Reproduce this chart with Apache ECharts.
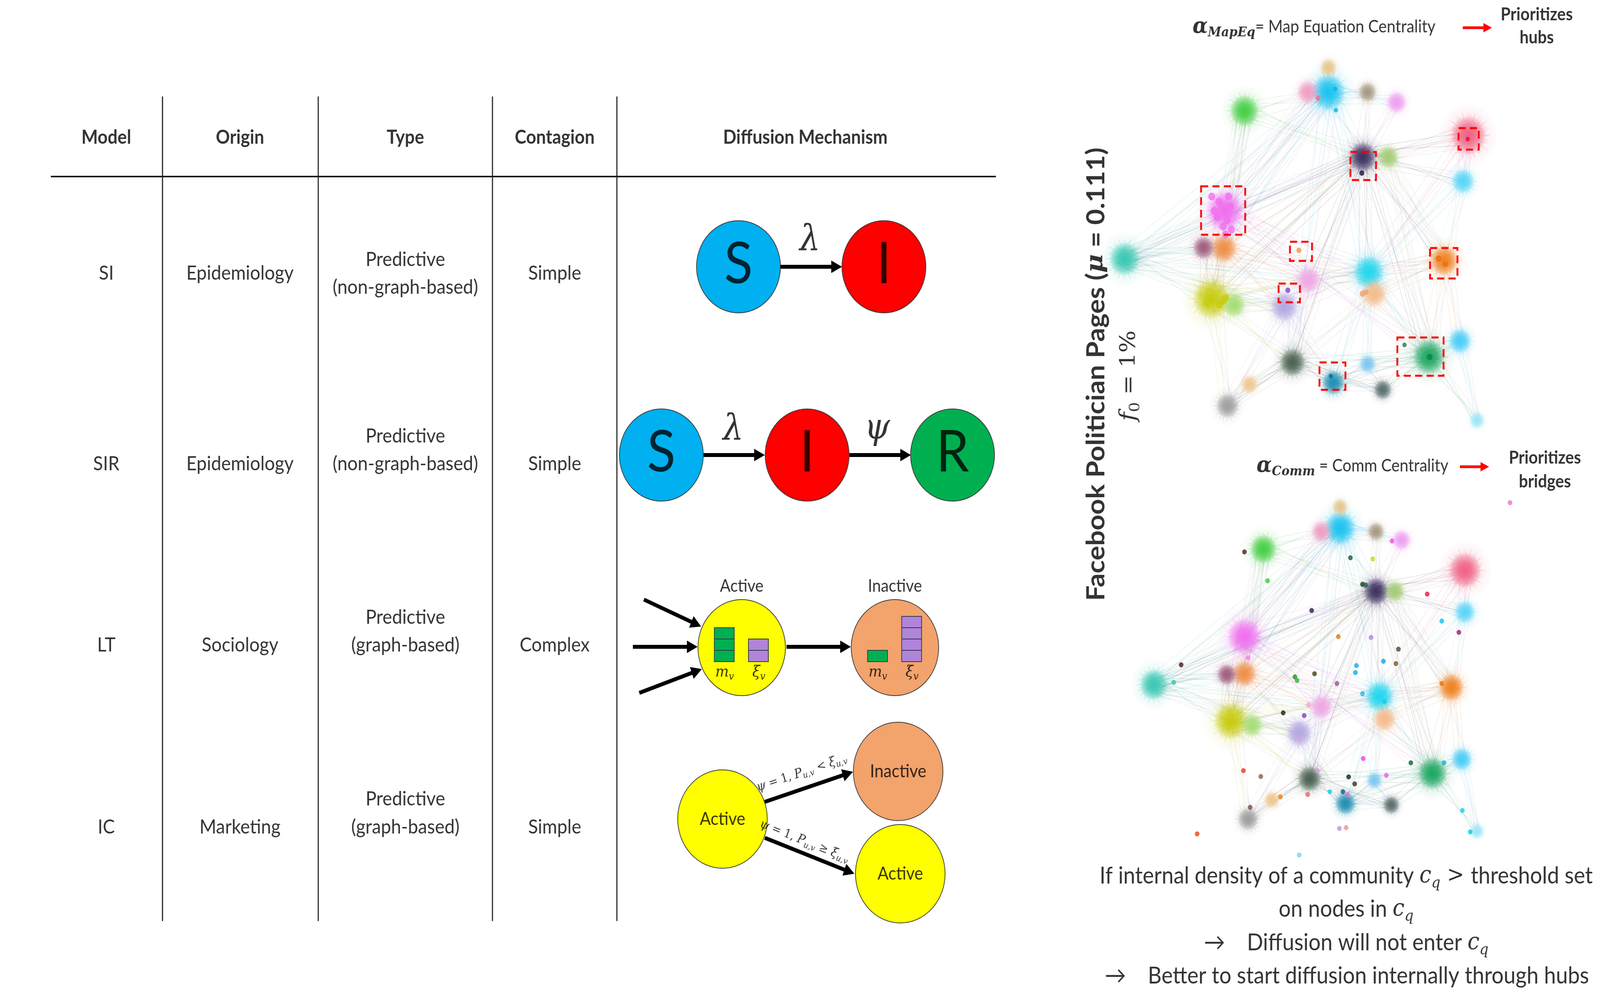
<!DOCTYPE html>
<html><head><meta charset="utf-8">
<script src="https://cdn.jsdelivr.net/npm/echarts/dist/echarts.min.js"></script>
<style>html,body{margin:0;padding:0;background:#fff;overflow:hidden}#c{width:4500px;height:2550px;transform-origin:0 0}</style>
</head><body><div id="c"></div>
<script>
// ================= DATA =================
const headers = ['Model', 'Origin', 'Type', 'Contagion', 'Diffusion Mechanism'];
const models = ['SI', 'SIR', 'LT', 'IC'];
const origins = ['Epidemiology', 'Epidemiology', 'Sociology', 'Marketing'];
const typeLine1 = ['Predictive', 'Predictive', 'Predictive', 'Predictive'];
const typeLine2 = ['(non-graph-based)', '(non-graph-based)', '(graph-based)', '(graph-based)'];
const contagions = ['Simple', 'Simple', 'Complex', 'Simple'];
const siStates = ['S', 'I'];
const sirStates = ['S', 'I', 'R'];
const siRates = ['λ'];
const sirRates = ['λ', 'ψ'];
const ltStates = ['Active', 'Inactive'];
const ltMv = [3, 1];          // m_v blocks (Active, Inactive)
const ltXi = [2, 4];          // xi_v blocks (Active, Inactive)
const icStates = ['Active', 'Inactive', 'Active'];
const icRelations = ['<', '≥'];

// network communities (same communities in both layouts)
const topX = [3163,3445,3442,3407,3471,3500,3736,3678,3736,3846,3928,3833,3904,4130,4115,4062,3850,3865,3680,3612,4019,4106,3635,3750,3846,3889,3452,3514,4154,3385];
const topY = [663,540,636,765,781,284,236,236,173,236,262,402,402,346,464,667,697,752,717,785,914,873,928,980,932,998,1039,984,1076,634];
const botX = [3245,3500,3500,3462,3522,3553,3769,3716,3769,3870,3942,3870,3923,4120,4120,4082,3880,3894,3716,3654,4029,4111,3683,3784,3865,3913,3510,3577,4154,3450];
const botY = [1753,1630,1725,1846,1857,1406,1352,1361,1298,1361,1383,1514,1514,1460,1567,1760,1783,1841,1810,1877,1980,1944,1994,2057,1998,2061,2097,2048,2128,1727];
const commSize = [38,46,32,46,28,36,42,26,20,22,24,34,26,44,28,34,38,30,30,34,40,28,32,28,20,22,28,20,18,26];
const commEdges = [[0,1],[0,2],[0,3],[0,6],[0,11],[0,29],[0,18],[1,2],[1,6],[1,11],[1,5],[1,3],[1,16],[1,20],
 [2,3],[2,11],[2,29],[2,16],[2,19],[3,4],[3,19],[3,22],[3,26],[3,11],[3,18],[5,6],[5,11],[5,3],
 [6,7],[6,8],[6,9],[6,11],[6,10],[6,16],[6,2],[6,22],[9,11],[10,11],[11,12],[11,13],[11,15],[11,20],[11,16],[11,18],[11,14],[11,22],
 [13,14],[13,16],[13,12],[14,15],[14,16],[15,17],[15,20],[15,16],[15,21],[16,17],[16,18],[16,24],[16,20],
 [17,20],[18,19],[19,22],[19,23],[20,21],[20,22],[20,23],[20,24],[20,28],[20,25],[22,23],[22,25],[22,26],[22,27],
 [23,24],[23,25],[24,25],[26,27],[21,28],[12,15],[11,3],[11,0],[6,1],[19,16],[18,15],[1,18],[2,18],[3,16],[0,19],[5,2],[7,1],[12,20],[17,22],[19,26],[29,3],[4,19],[18,22],[16,23]];
// top layout: highlighted hubs (Map Equation centrality)
const hubX = [3408,3455,3438,3423,3452,3463,3440,3428,3415,3460,3447,3707,3755,3757,3830,4128,3653,3622,4046,4065,3832,3842,3950,4021,3743,3395,3440,3447,3430];
const hubY = [503,503,531,556,564,588,580,516,540,530,600,251,228,282,443,356,641,743,662,676,752,748,883,914,963,775,770,762,780];
const hubComm = [1,1,1,1,1,1,1,1,1,1,1,7,6,6,11,13,2,19,15,15,17,17,20,20,23,3,3,3,3];
const hubSize = [20,20,20,20,20,20,20,20,20,20,20,14,12,12,14,12,14,14,16,16,16,14,12,16,12,20,20,20,20];
// red boxes around selected hubs
const hubBoxes = [[3378,477,3502,601],[3798,389,3870,461],[4102,328,4159,383],[4022,635,4099,713],[3628,619,3690,668],[3596,726,3656,774],[3930,864,4060,962],[3711,928,3784,998]];
// bottom layout: highlighted bridges (Comm centrality)
const bridgeX = [4247,3500,3565,3798,3861,3915,3832,3841,4014,3689,4055,4103,3764,3856,3510,3322,3301,3933,3891,3926,3815,3812,3642,3648,3697,3760,4055,3832,3894,3680,3609,3668,3654,3834,3968,4061,3497,3546,3705,3899,3793,3810,3740,3777,3678,3790,3601,3516,4113,3367,3767,3786,4135,3654];
const bridgeY = [1287,1413,1487,1428,1431,1385,1496,1498,1521,1563,1590,1619,1630,1632,1684,1702,1747,1662,1693,1699,1704,1722,1733,1742,1725,1750,1750,1776,1796,1805,1825,1832,1893,1942,1953,1953,1973,1988,1973,1985,1989,2007,2027,2027,2034,2034,2040,2067,2075,2135,2121,2119,2130,2189];
const bridgeColors = ['#f070d0','#4a2020','#30d030','#1a5a30','#b0e020','#f050e0','#103820','#206040','#f01040','#2a1a4a','#10c0f0','#a01870','#d08010','#b080f0','#f080f0','#501020','#30c8b0','#305030','#10a0f0','#706010','#10b0f0','#10a8f0','#209020','#30b030','#404010','#a05090','#f07010','#20b8e0','#10d0e0','#f0a0e0','#102010','#8040c0','#e0a0e0','#f040e0','#106030','#10b0e0','#f03020','#806050','#d0a0e0','#e060f0','#102020','#303010','#10d0e0','#106080','#f06060','#f070c0','#f08010','#705040','#10d0f0','#f04010','#c090e0','#f09090','#10c8e0','#80d0f0'];

// ================= LAYOUT / STYLE =================
const commColors = ['#3cc8b4','#f070f0','#f29048','#c8cc10','#a6de78','#48d048','#1cc4f0','#f0a0c4','#e6c890','#a89a84','#f0a0f0','#403462','#a6cc78','#f06486','#5cd6f8','#f08424','#22d8f0','#f6bc8c','#f0a8e6','#b4a8e0','#1ea862','#4ccef8','#4c6452','#2290b4','#80c8f0','#5e7070','#a0a0a0','#f0c890','#a0e6f8','#a06082'];
const hubColors = {1:'#f070f0',7:'#f07090',6:'#10b0e0',11:'#20143c',13:'#e0103a',2:'#f09050',19:'#8040c0',15:'#e87010',17:'#f0a070',20:'#108040',23:'#106890',3:'#c8cc10'};
const colX = [299, 675, 1140, 1560, 2265];
const headerY = 352;
const rowY = [700, 1188, 1652, 2118];
const typeY = [[665, 736], [1117, 1188], [1581, 1652], [2046, 2118]];
const rules = [[143,452,2801,452,4],[457,247,457,2358,3],[895,247,895,2358,3],[1385,247,1385,2358,3],[1735,247,1735,2358,3]];
const siPos = [[2077,683],[2486,683]];
const sirPos = [[1860,1165],[2270,1165],[2679,1165]];
const ltPos = [[2086,1658],[2517,1658]];
const icPos = [[2032,2097],[2526,1975],[2532,2237]];
const stateColor = {S:'#00b0f0', I:'#ff0000', R:'#00b050', Active:'#ffff00', Inactive:'#f3a36c'};
const blackArrows = [
  [2195,683,2368,683],
  [1979,1165,2151,1165],[2389,1165,2562,1165],
  [1811,1535,1972,1604],[1780,1656,1962,1656],[1798,1774,1974,1713],[2212,1656,2393,1656],
  [2151,2053,2399,1976],[2151,2145,2403,2237]
];
const redArrows = [[4114,71,4196,71],[4106,1195,4188,1195]];

function rgba(hex, a) { const n = parseInt(hex.slice(1), 16); return 'rgba(' + (n >> 16 & 255) + ',' + (n >> 8 & 255) + ',' + (n & 255) + ',' + a + ')'; }

// ---------- texts ----------
const texts = [];
function addText(x, y, t, lab) { texts.push({ value: [x, y], t: t, label: lab || {} }); }
headers.forEach((h, i) => addText(colX[i], headerY, h, { fontWeight: 'bold', fontSize: 49 }));
models.forEach((m, i) => {
  addText(colX[0], rowY[i], m);
  addText(colX[1], rowY[i], origins[i]);
  addText(colX[2], typeY[i][0], typeLine1[i]);
  addText(colX[2], typeY[i][1], typeLine2[i]);
  addText(colX[3], rowY[i], contagions[i]);
});
siStates.forEach((s, i) => addText(siPos[i][0], siPos[i][1] - 6, s, { fontSize: 148 }));
sirStates.forEach((s, i) => addText(sirPos[i][0], sirPos[i][1] - 6, s, { fontSize: 148 }));
addText(2278, 617, '{lam|' + siRates[0] + '}');
addText(2062, 1102, '{lam|' + sirRates[0] + '}');
addText(2467, 1099, '{lam|' + sirRates[1] + '}');
ltStates.forEach((s, i) => {
  addText(ltPos[i][0], 1501, s, { fontSize: 44 });
  addText(ltPos[i][0] - 48, 1722, '{mm|m}{ms|v}');
  addText(ltPos[i][0] + 48, 1722, '{mm|ξ}{ms|v}');
});
icStates.forEach((s, i) => addText(icPos[i][0], icPos[i][1], s, { fontSize: 46 }));
addText(2255, 1979, '{cm|ψ}{cr| = 1, }{cm|P}{cs|u,v}{cr| ' + icRelations[0] + ' }{cm|ξ}{cs|u,v}', { rotate: 17 });
addText(2262, 2154, '{cm|ψ}{cr| = 1, }{cm|P}{cs|u,v}{cr| ' + icRelations[1] + ' }{cm|ξ}{cs|u,v}', { rotate: -20 });
// right panel
addText(3083, 958, 'Facebook Politician Pages ({mu|μ} = 0.111)', { fontWeight: 'bold', fontSize: 70, rotate: 90 });
addText(3176, 962, '{fi|f}{fs|0}{fr| = 1%}', { rotate: 90 });
addText(3354, 69, '{ab|α}{abs|MapEq}{tt|= Map Equation Centrality}', { align: 'left' });
addText(4322, 37, 'Prioritizes', { fontWeight: 'bold', fontSize: 45 });
addText(4322, 96, 'hubs', { fontWeight: 'bold', fontSize: 45 });
addText(3534, 1193, '{ab|α}{abs|Comm}{tt| = Comm Centrality}', { align: 'left' });
addText(4345, 1172, 'Prioritizes', { fontWeight: 'bold', fontSize: 45 });
addText(4345, 1233, 'bridges', { fontWeight: 'bold', fontSize: 45 });
addText(3786, 2243, '{bt|If internal density of a community }{cq|c}{cqs|q}{gt| > }{bt|threshold set}');
addText(3786, 2328, '{bt|on nodes in }{cq|c}{cqs|q}');
addText(3786, 2414, '{bt|→    Diffusion will not enter }{cq|c}{cqs|q}');
addText(3788, 2499, '{bt|→    Better to start diffusion internally through hubs}');

const serif = 'DejaVu Serif';
const rich = {
  lam: { fontFamily: serif, fontStyle: 'italic', fontSize: 92, color: '#000' },
  mm: { fontFamily: serif, fontStyle: 'italic', fontSize: 40, lineHeight: 48, color: '#000' },
  ms: { fontFamily: serif, fontStyle: 'italic', fontSize: 26, lineHeight: 26, verticalAlign: 'bottom', color: '#000' },
  cm: { fontFamily: serif, fontStyle: 'italic', fontSize: 33, lineHeight: 40, color: '#000' },
  cr: { fontFamily: serif, fontSize: 31, lineHeight: 40, color: '#000' },
  cs: { fontFamily: serif, fontStyle: 'italic', fontSize: 22, lineHeight: 22, verticalAlign: 'bottom', color: '#000' },
  mu: { fontFamily: serif, fontStyle: 'italic', fontWeight: 'bold', fontSize: 66, color: '#000' },
  fi: { fontFamily: serif, fontStyle: 'italic', fontSize: 62, lineHeight: 76, color: '#000' },
  fs: { fontFamily: serif, fontSize: 40, lineHeight: 40, verticalAlign: 'bottom', color: '#000' },
  fr: { fontFamily: serif, fontSize: 60, lineHeight: 76, color: '#000' },
  ab: { fontFamily: serif, fontStyle: 'italic', fontWeight: 'bold', fontSize: 56, lineHeight: 64, color: '#000' },
  abs: { fontFamily: serif, fontStyle: 'italic', fontWeight: 'bold', fontSize: 34, lineHeight: 34, verticalAlign: 'bottom', color: '#000' },
  tt: { fontFamily: 'Lato', fontSize: 44, lineHeight: 64, color: '#000' },
  bt: { fontFamily: 'Lato', fontSize: 60, lineHeight: 78, color: '#000' },
  cq: { fontFamily: serif, fontStyle: 'italic', fontSize: 60, lineHeight: 78, color: '#000' },
  cqs: { fontFamily: serif, fontStyle: 'italic', fontSize: 40, lineHeight: 40, verticalAlign: 'bottom', color: '#000' },
  gt: { fontFamily: serif, fontSize: 58, lineHeight: 78, color: '#000' }
};

// ---------- derived drawing data ----------
const edgesTop = commEdges.map(([a, b]) => [topX[a], topY[a], topX[b], topY[b], a, commSize[a], commSize[b]]);
const edgesBot = commEdges.map(([a, b]) => [botX[a], botY[a], botX[b], botY[b], a, commSize[a] * 0.92, commSize[b] * 0.92]);
const commTop = topX.map((x, i) => [x, topY[i], commSize[i], i]);
const commBot = botX.map((x, i) => [x, botY[i], commSize[i] * 0.92, i]);
const hubDots = hubX.map((x, i) => ({ value: [x, hubY[i]], symbolSize: hubSize[i], itemStyle: { color: hubColors[hubComm[i]] } }));
const bridgeDots = bridgeX.map((x, i) => ({ value: [x, bridgeY[i]], itemStyle: { color: bridgeColors[i] } }));
const nodes = [];
siStates.forEach((s, i) => nodes.push([siPos[i][0], siPos[i][1], 118, s]));
sirStates.forEach((s, i) => nodes.push([sirPos[i][0], sirPos[i][1], 118, s]));
ltStates.forEach((s, i) => nodes.push([ltPos[i][0], ltPos[i][1], 123, s]));
icStates.forEach((s, i) => nodes.push([icPos[i][0], icPos[i][1], 126, s]));
const blocks = [];
ltStates.forEach((s, i) => {
  blocks.push([ltPos[i][0] - 49, 1694, ltMv[i], 0]);
  blocks.push([ltPos[i][0] + 47, 1694, ltXi[i], 1]);
});

// drawing styles for the hairball look
const spokePattern = [1, 0.55, 0.85, 0.4, 0.95, 0.65, 0.75, 0.5, 0.9];
const bundleOffsets = [[0, 0, 0, 0], [-0.6, 0.3, 0.5, -0.4], [0.4, -0.5, -0.3, 0.6], [0.1, 0.7, 0.6, 0.2], [-0.3, -0.6, -0.7, -0.1], [0.7, 0.1, 0.2, -0.7]];

function segRender(params, api) {
  const p1 = api.coord([api.value(0), api.value(1)]);
  const p2 = api.coord([api.value(2), api.value(3)]);
  return { type: 'line', shape: { x1: p1[0], y1: p1[1], x2: p2[0], y2: p2[1] }, style: { stroke: '#1a1a1a', lineWidth: api.value(4) } };
}
function edgeRender(params, api) {
  const p1 = api.coord([api.value(0), api.value(1)]);
  const p2 = api.coord([api.value(2), api.value(3)]);
  const col = commColors[api.value(4)];
  const ra = api.size([api.value(5), 0])[0], rb = api.size([api.value(6), 0])[0];
  const ch = bundleOffsets.map((o, j) => ({ type: 'line',
    shape: { x1: p1[0] + o[0] * ra, y1: p1[1] + o[1] * ra, x2: p2[0] + o[2] * rb, y2: p2[1] + o[3] * rb },
    style: { stroke: j % 2 ? 'rgba(120,120,135,0.11)' : rgba(col, 0.15), lineWidth: 1.6 } }));
  return { type: 'group', children: ch };
}
function commRender(params, api) {
  const c = api.coord([api.value(0), api.value(1)]);
  const r = api.size([api.value(2), 0])[0];
  const col = commColors[api.value(3)];
  const ch = [];
  ch.push({ type: 'circle', shape: { cx: c[0], cy: c[1], r: r * 1.9 }, style: { fill: new echarts.graphic.RadialGradient(0.5, 0.5, 0.5, [
    { offset: 0, color: rgba(col, 0.3) }, { offset: 0.5, color: rgba(col, 0.12) }, { offset: 1, color: rgba(col, 0) }]) } });
  const n = 90;
  for (let k = 0; k < n; k++) {
    const a = k * 2 * Math.PI / n + 0.05 * (k % 3);
    const L = r * (0.6 + 0.8 * spokePattern[k % spokePattern.length]);
    ch.push({ type: 'line', shape: { x1: c[0], y1: c[1], x2: c[0] + L * Math.cos(a), y2: c[1] + L * Math.sin(a) }, style: { stroke: rgba(col, 0.22), lineWidth: 1.3 } });
  }
  ch.push({ type: 'circle', shape: { cx: c[0], cy: c[1], r: r * 1.15 }, style: { fill: new echarts.graphic.RadialGradient(0.5, 0.5, 0.5, [
    { offset: 0, color: rgba(col, 1) }, { offset: 0.4, color: rgba(col, 0.8) }, { offset: 0.75, color: rgba(col, 0.38) }, { offset: 1, color: rgba(col, 0) }]) } });
  return { type: 'group', children: ch };
}
function nodeRender(params, api) {
  const c = api.coord([api.value(0), api.value(1)]);
  const r = api.size([api.value(2), 0])[0];
  const s = nodes[params.dataIndex][3];
  return { type: 'circle', shape: { cx: c[0], cy: c[1], r: r }, style: { fill: stateColor[s], stroke: '#3a3a3a', lineWidth: 2 } };
}
function arrowShape(p1, p2, w, hl, hw) {
  const dx = p2[0] - p1[0], dy = p2[1] - p1[1], L = Math.sqrt(dx * dx + dy * dy);
  const ux = dx / L, uy = dy / L, nx = -uy, ny = ux;
  const bx = p2[0] - ux * hl, by = p2[1] - uy * hl;
  return [[p1[0] + nx * w / 2, p1[1] + ny * w / 2], [bx + nx * w / 2, by + ny * w / 2], [bx + nx * hw / 2, by + ny * hw / 2], [p2[0], p2[1]],
          [bx - nx * hw / 2, by - ny * hw / 2], [bx - nx * w / 2, by - ny * w / 2], [p1[0] - nx * w / 2, p1[1] - ny * w / 2]];
}
function makeArrowRender(color, w, hl, hw) {
  return function (params, api) {
    const p1 = api.coord([api.value(0), api.value(1)]);
    const p2 = api.coord([api.value(2), api.value(3)]);
    return { type: 'polygon', shape: { points: arrowShape(p1, p2, w, hl, hw) }, style: { fill: color } };
  };
}
function blockRender(params, api) {
  const base = api.coord([api.value(0), api.value(1)]);
  const n = api.value(2);
  const sz = api.size([56, 29]);
  const fill = api.value(3) === 0 ? '#00b050' : '#b084d8';
  const ch = [];
  for (let k = 0; k < n; k++) {
    ch.push({ type: 'rect', shape: { x: base[0] - sz[0] / 2, y: base[1] - (k + 1) * sz[1], width: sz[0], height: sz[1] }, style: { fill: fill, stroke: '#2e3b4a', lineWidth: 2 } });
  }
  return { type: 'group', children: ch };
}
function boxRender(params, api) {
  const p1 = api.coord([api.value(0), api.value(1)]);
  const p2 = api.coord([api.value(2), api.value(3)]);
  return { type: 'rect', shape: { x: p1[0], y: p1[1], width: p2[0] - p1[0], height: p2[1] - p1[1] }, style: { fill: 'none', stroke: '#ff0000', lineWidth: 5, lineDash: [20, 12] } };
}

// map the 4500x2550 drawing onto the whole viewport the browser really has
const holder = document.getElementById('c');
const sx = window.innerWidth / 4500, sy = window.innerHeight / 2550;
if (sx > 0 && sy > 0 && (Math.abs(sx - 1) > 0.001 || Math.abs(sy - 1) > 0.001)) holder.style.transform = 'scale(' + sx + ',' + sy + ')';

const chart = echarts.init(holder, null, { renderer: 'canvas', width: 4500, height: 2550 });
chart.setOption({
  backgroundColor: '#ffffff',
  animation: false,
  grid: { left: 0, top: 0, width: 4500, height: 2550, containLabel: false },
  xAxis: { type: 'value', min: 0, max: 4500, show: false },
  yAxis: { type: 'value', min: 0, max: 2550, inverse: true, show: false },
  series: [
    { type: 'custom', name: 'rules', renderItem: segRender, data: rules, silent: true, z: 2 },
    { type: 'custom', name: 'edgesTop', renderItem: edgeRender, data: edgesTop, silent: true, z: 1 },
    { type: 'custom', name: 'edgesBot', renderItem: edgeRender, data: edgesBot, silent: true, z: 1 },
    { type: 'custom', name: 'commTop', renderItem: commRender, data: commTop, silent: true, z: 2 },
    { type: 'custom', name: 'commBot', renderItem: commRender, data: commBot, silent: true, z: 2 },
    { type: 'scatter', name: 'hubs', data: hubDots, symbolSize: 15, silent: true, z: 3 },
    { type: 'scatter', name: 'bridges', data: bridgeDots, symbolSize: 13, silent: true, z: 3 },
    { type: 'custom', name: 'boxes', renderItem: boxRender, data: hubBoxes, silent: true, z: 4 },
    { type: 'custom', name: 'nodes', renderItem: nodeRender, data: nodes, silent: true, z: 3 },
    { type: 'custom', name: 'blocks', renderItem: blockRender, data: blocks, silent: true, z: 4 },
    { type: 'custom', name: 'arrows', renderItem: makeArrowRender('#000000', 10, 30, 32), data: blackArrows, silent: true, z: 4 },
    { type: 'custom', name: 'redArrows', renderItem: makeArrowRender('#ff0000', 7, 24, 24), data: redArrows, silent: true, z: 4 },
    { type: 'scatter', name: 'texts', data: texts, symbolSize: 1, itemStyle: { color: 'rgba(0,0,0,0)' }, silent: true, z: 10,
      label: { show: true, position: 'inside', formatter: p => p.data.t, color: '#000', fontFamily: 'Lato', fontSize: 51, rich: rich } }
  ]
});
</script>
</body></html>
